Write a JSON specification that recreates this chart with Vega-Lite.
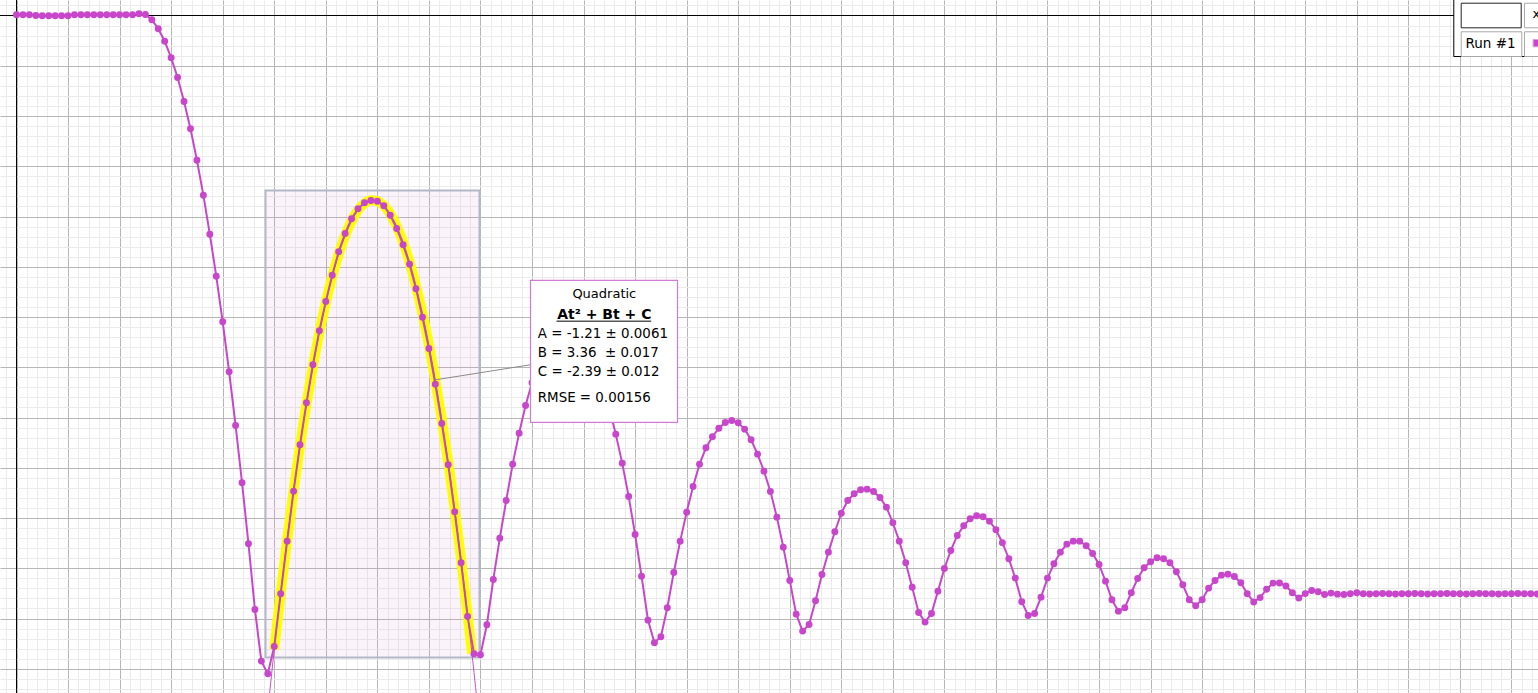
{
  "$schema": "https://vega.github.io/schema/vega-lite/v6.json",
  "width": 1538,
  "height": 693,
  "autosize": "none",
  "padding": 0,
  "background": "white",
  "config": {"view": {"stroke": null}},
  "resolve": {"axis": {"x": "independent", "y": "independent"}},
  "datasets": {
    "run": [
      {"t":0,"y":0.00028},{"t":0.025,"y":0.00028},{"t":0.05,"y":0.00028},{"t":0.075,"y":0},{"t":0.1,"y":-0.00012},{"t":0.125,"y":-0.00012},{"t":0.15,"y":-0.00012},{"t":0.175,"y":-0.00012},{"t":0.2,"y":-0.00012},{"t":0.225,"y":0.00028},
      {"t":0.25,"y":0.00028},{"t":0.275,"y":0.00028},{"t":0.3,"y":0.00028},{"t":0.325,"y":0.00028},{"t":0.35,"y":0.00028},{"t":0.375,"y":0.00028},{"t":0.4,"y":0.00028},{"t":0.425,"y":0.00028},{"t":0.45,"y":0.00028},{"t":0.475,"y":0.00068},
      {"t":0.5,"y":0.0004},{"t":0.525,"y":-0.00171},{"t":0.55,"y":-0.00529},{"t":0.575,"y":-0.01023},{"t":0.6,"y":-0.01683},{"t":0.625,"y":-0.02467},{"t":0.65,"y":-0.03422},{"t":0.675,"y":-0.04509},{"t":0.7,"y":-0.05758},{"t":0.725,"y":-0.07151},
      {"t":0.75,"y":-0.08703},{"t":0.775,"y":-0.10374},{"t":0.8,"y":-0.12189},{"t":0.825,"y":-0.14178},{"t":0.85,"y":-0.16315},{"t":0.875,"y":-0.18595},{"t":0.9,"y":-0.21023},{"t":0.925,"y":-0.23637},{"t":0.95,"y":-0.25694},{"t":0.975,"y":-0.26196},
      {"t":1,"y":-0.25109},{"t":1.025,"y":-0.23012},{"t":1.05,"y":-0.20919},{"t":1.075,"y":-0.1893},{"t":1.1,"y":-0.17083},{"t":1.125,"y":-0.15412},{"t":1.15,"y":-0.139},{"t":1.175,"y":-0.12547},{"t":1.2,"y":-0.11381},{"t":1.225,"y":-0.10334},
      {"t":1.25,"y":-0.09403},{"t":1.275,"y":-0.08675},{"t":1.3,"y":-0.0809},{"t":1.325,"y":-0.07692},{"t":1.35,"y":-0.07453},{"t":1.375,"y":-0.07362},{"t":1.4,"y":-0.0739},{"t":1.425,"y":-0.07573},{"t":1.45,"y":-0.07947},{"t":1.475,"y":-0.08476},
      {"t":1.5,"y":-0.09125},{"t":1.525,"y":-0.09897},{"t":1.55,"y":-0.10876},{"t":1.575,"y":-0.12006},{"t":1.6,"y":-0.13251},{"t":1.625,"y":-0.14672},{"t":1.65,"y":-0.16236},{"t":1.675,"y":-0.17879},{"t":1.7,"y":-0.1975},{"t":1.725,"y":-0.21779},
      {"t":1.75,"y":-0.23916},{"t":1.775,"y":-0.254},{"t":1.8,"y":-0.2544},{"t":1.825,"y":-0.24246},{"t":1.85,"y":-0.22443},{"t":1.875,"y":-0.208},{"t":1.9,"y":-0.193},{"t":1.925,"y":-0.17855},{"t":1.95,"y":-0.16622},{"t":1.975,"y":-0.15519},
      {"t":2,"y":-0.14616},{"t":2.025,"y":-0.13868},{"t":2.05,"y":-0.13271},{"t":2.075,"y":-0.12825},{"t":2.1,"y":-0.12531},{"t":2.125,"y":-0.12388},{"t":2.15,"y":-0.12396},{"t":2.175,"y":-0.12555},{"t":2.2,"y":-0.12865},{"t":2.225,"y":-0.13327},
      {"t":2.25,"y":-0.1394},{"t":2.275,"y":-0.14704},{"t":2.3,"y":-0.15619},{"t":2.325,"y":-0.16661},{"t":2.35,"y":-0.17815},{"t":2.375,"y":-0.1914},{"t":2.4,"y":-0.20653},{"t":2.425,"y":-0.22312},{"t":2.45,"y":-0.24063},{"t":2.475,"y":-0.24962},
      {"t":2.5,"y":-0.24723},{"t":2.525,"y":-0.2357},{"t":2.55,"y":-0.22165},{"t":2.575,"y":-0.20919},{"t":2.6,"y":-0.19765},{"t":2.625,"y":-0.18743},{"t":2.65,"y":-0.17855},{"t":2.675,"y":-0.17203},{"t":2.7,"y":-0.16765},{"t":2.725,"y":-0.16423},
      {"t":2.75,"y":-0.16196},{"t":2.775,"y":-0.16116},{"t":2.8,"y":-0.16208},{"t":2.825,"y":-0.16462},{"t":2.85,"y":-0.16884},{"t":2.875,"y":-0.17457},{"t":2.9,"y":-0.18134},{"t":2.925,"y":-0.18942},{"t":2.95,"y":-0.19964},{"t":2.975,"y":-0.21158},
      {"t":3,"y":-0.22483},{"t":3.025,"y":-0.23824},{"t":3.05,"y":-0.245},{"t":3.075,"y":-0.24234},{"t":3.1,"y":-0.23291},{"t":3.125,"y":-0.22244},{"t":3.15,"y":-0.21357},{"t":3.175,"y":-0.20545},{"t":3.2,"y":-0.19805},{"t":3.225,"y":-0.193},
      {"t":3.25,"y":-0.19033},{"t":3.275,"y":-0.18874},{"t":3.3,"y":-0.1885},{"t":3.325,"y":-0.18942},{"t":3.35,"y":-0.1918},{"t":3.375,"y":-0.19566},{"t":3.4,"y":-0.20187},{"t":3.425,"y":-0.20919},{"t":3.45,"y":-0.21779},{"t":3.475,"y":-0.2275},
      {"t":3.5,"y":-0.23756},{"t":3.525,"y":-0.24142},{"t":3.55,"y":-0.23796},{"t":3.575,"y":-0.22909},{"t":3.6,"y":-0.22006},{"t":3.625,"y":-0.21289},{"t":3.65,"y":-0.20692},{"t":3.675,"y":-0.20306},{"t":3.7,"y":-0.20028},{"t":3.725,"y":-0.19908},
      {"t":3.75,"y":-0.19948},{"t":3.775,"y":-0.20123},{"t":3.8,"y":-0.20466},{"t":3.825,"y":-0.20983},{"t":3.85,"y":-0.2162},{"t":3.875,"y":-0.22391},{"t":3.9,"y":-0.23331},{"t":3.925,"y":-0.23876},{"t":3.95,"y":-0.23796},{"t":3.975,"y":-0.23148},
      {"t":4,"y":-0.22391},{"t":4.025,"y":-0.21819},{"t":4.05,"y":-0.21357},{"t":4.075,"y":-0.21039},{"t":4.1,"y":-0.20919},{"t":4.125,"y":-0.20919},{"t":4.15,"y":-0.21102},{"t":4.175,"y":-0.21409},{"t":4.2,"y":-0.21846},{"t":4.225,"y":-0.22511},
      {"t":4.25,"y":-0.23251},{"t":4.275,"y":-0.23705},{"t":4.3,"y":-0.2357},{"t":4.325,"y":-0.22973},{"t":4.35,"y":-0.22404},{"t":4.375,"y":-0.21978},{"t":4.4,"y":-0.21739},{"t":4.425,"y":-0.2158},{"t":4.45,"y":-0.2162},{"t":4.475,"y":-0.21779},
      {"t":4.5,"y":-0.22137},{"t":4.525,"y":-0.22655},{"t":4.55,"y":-0.23251},{"t":4.575,"y":-0.2349},{"t":4.6,"y":-0.23251},{"t":4.625,"y":-0.2279},{"t":4.65,"y":-0.22483},{"t":4.675,"y":-0.22272},{"t":4.7,"y":-0.22232},{"t":4.725,"y":-0.22324},
      {"t":4.75,"y":-0.22575},{"t":4.775,"y":-0.23012},{"t":4.8,"y":-0.23339},{"t":4.825,"y":-0.23167},{"t":4.85,"y":-0.22833},{"t":4.875,"y":-0.2259},{"t":4.9,"y":-0.22583},{"t":4.925,"y":-0.22702},{"t":4.95,"y":-0.22973},{"t":4.975,"y":-0.2318},
      {"t":5,"y":-0.23008},{"t":5.025,"y":-0.22881},{"t":5.05,"y":-0.22933},{"t":5.075,"y":-0.2304},{"t":5.1,"y":-0.22988},{"t":5.125,"y":-0.23028},{"t":5.15,"y":-0.2304},{"t":5.175,"y":-0.23012},{"t":5.2,"y":-0.22973},{"t":5.225,"y":-0.23012},
      {"t":5.25,"y":-0.23025},{"t":5.275,"y":-0.23012},{"t":5.3,"y":-0.23},{"t":5.325,"y":-0.23012},{"t":5.35,"y":-0.23025},{"t":5.375,"y":-0.23012},{"t":5.4,"y":-0.23012},{"t":5.425,"y":-0.23},{"t":5.45,"y":-0.23012},{"t":5.475,"y":-0.23025},
      {"t":5.5,"y":-0.23012},{"t":5.525,"y":-0.23012},{"t":5.55,"y":-0.23},{"t":5.575,"y":-0.23012},{"t":5.6,"y":-0.23012},{"t":5.625,"y":-0.23025},{"t":5.65,"y":-0.23012},{"t":5.675,"y":-0.23},{"t":5.7,"y":-0.23012},{"t":5.725,"y":-0.23012},
      {"t":5.75,"y":-0.23025},{"t":5.775,"y":-0.23012},{"t":5.8,"y":-0.23012},{"t":5.825,"y":-0.23},{"t":5.85,"y":-0.23012},{"t":5.875,"y":-0.23012},{"t":5.9,"y":-0.23025}
    ],
    "fit": [
      {"t":0.94,"y":-0.31283},{"t":0.96,"y":-0.2917},{"t":0.98,"y":-0.27154},{"t":1,"y":-0.25234},{"t":1.025,"y":-0.22974},{"t":1.05,"y":-0.20866},{"t":1.075,"y":-0.1891},{"t":1.1,"y":-0.17107},{"t":1.125,"y":-0.15457},{"t":1.15,"y":-0.1396},
      {"t":1.175,"y":-0.12615},{"t":1.2,"y":-0.11423},{"t":1.225,"y":-0.10384},{"t":1.25,"y":-0.09497},{"t":1.275,"y":-0.08763},{"t":1.3,"y":-0.08181},{"t":1.325,"y":-0.07753},{"t":1.35,"y":-0.07477},{"t":1.375,"y":-0.07353},{"t":1.4,"y":-0.07383},
      {"t":1.425,"y":-0.07565},{"t":1.45,"y":-0.07899},{"t":1.475,"y":-0.08387},{"t":1.5,"y":-0.09027},{"t":1.525,"y":-0.09819},{"t":1.55,"y":-0.10765},{"t":1.575,"y":-0.11863},{"t":1.6,"y":-0.13113},{"t":1.625,"y":-0.14517},{"t":1.65,"y":-0.16073},
      {"t":1.675,"y":-0.17782},{"t":1.7,"y":-0.19643},{"t":1.725,"y":-0.21657},{"t":1.75,"y":-0.23824},{"t":1.767,"y":-0.25385},{"t":1.775,"y":-0.26143},{"t":1.8,"y":-0.28616},{"t":1.82,"y":-0.30703},{"t":1.84,"y":-0.32888}
    ]
  },
  "layer": [
    {
      "data": {"values": [{}]},
      "mark": {"type": "rect", "fill": "#d9a0d9", "fillOpacity": 0.12, "stroke": "#b3b8c6", "strokeWidth": 2},
      "encoding": {
        "x": {
          "datum": 0.96605, "type": "quantitative",
          "scale": {"domain": [-0.064016, 5.90301], "nice": false, "zero": false},
          "axis": {
            "labels": false, "ticks": false, "domain": true, "domainOpacity": 0, "title": null,
            "grid": true, "gridColor": "#ebebeb", "gridWidth": 1, "gridOpacity": 1, "orient": "bottom",
            "values": [-0.04,0.04,0.08,0.12,0.16,0.24,0.28,0.32,0.36,0.44,0.48,0.52,0.56,0.64,0.68,0.72,0.76,0.84,0.88,0.92,0.96,
              1.04,1.08,1.12,1.16,1.24,1.28,1.32,1.36,1.44,1.48,1.52,1.56,1.64,1.68,1.72,1.76,1.84,1.88,1.92,1.96,
              2.04,2.08,2.12,2.16,2.24,2.28,2.32,2.36,2.44,2.48,2.52,2.56,2.64,2.68,2.72,2.76,2.84,2.88,2.92,2.96,
              3.04,3.08,3.12,3.16,3.24,3.28,3.32,3.36,3.44,3.48,3.52,3.56,3.64,3.68,3.72,3.76,3.84,3.88,3.92,3.96,
              4.04,4.08,4.12,4.16,4.24,4.28,4.32,4.36,4.44,4.48,4.52,4.56,4.64,4.68,4.72,4.76,4.84,4.88,4.92,4.96,
              5.04,5.08,5.12,5.16,5.24,5.28,5.32,5.36,5.44,5.48,5.52,5.56,5.64,5.68,5.72,5.76,5.84,5.88]
          }
        },
        "x2": {"datum": 1.79631},
        "y": {
          "datum": -0.069638, "type": "quantitative",
          "scale": {"domain": [-0.269629, 0.006168], "nice": false, "zero": false},
          "axis": {
            "labels": false, "ticks": false, "domain": true, "domainOpacity": 0, "title": null,
            "grid": true, "gridColor": "#ebebeb", "gridWidth": 1, "gridOpacity": 1, "orient": "left",
            "values": [0.004,-0.004,-0.008,-0.012,-0.016,-0.024,-0.028,-0.032,-0.036,-0.044,-0.048,-0.052,-0.056,-0.064,-0.068,-0.072,-0.076,-0.084,-0.088,-0.092,-0.096,-0.104,-0.108,-0.112,-0.116,-0.124,-0.128,-0.132,-0.136,-0.144,-0.148,-0.152,-0.156,-0.164,-0.168,-0.172,-0.176,-0.184,-0.188,-0.192,-0.196,-0.204,-0.208,-0.212,-0.216,-0.224,-0.228,-0.232,-0.236,-0.244,-0.248,-0.252,-0.256,-0.264,-0.268]
          }
        },
        "y2": {"datum": -0.255472}
      }
    },
    {
      "data": {"values": [{}]},
      "mark": {"type": "rule", "color": "#000000", "strokeWidth": 1},
      "encoding": {"x": {"datum": 0, "type": "quantitative", "axis": null}}
    },
    {
      "data": {"values": [{}]},
      "mark": {"type": "rule", "color": "#000000", "strokeWidth": 1},
      "encoding": {"y": {"datum": 0, "type": "quantitative", "axis": null}}
    },
    {
      "data": {"name": "fit"},
      "transform": [{"filter": "datum.t >= 0.999 && datum.t <= 1.768"}],
      "mark": {"type": "line", "color": "#ffff00", "strokeWidth": 10, "strokeCap": "butt", "interpolate": "monotone", "clip": true},
      "encoding": {
        "x": {"field": "t", "type": "quantitative", "axis": null},
        "y": {"field": "y", "type": "quantitative", "axis": null}
      }
    },
    {
      "data": {"name": "fit"},
      "mark": {"type": "line", "color": "#c850c8", "strokeWidth": 1, "interpolate": "monotone", "clip": true},
      "encoding": {
        "x": {"field": "t", "type": "quantitative", "axis": null},
        "y": {"field": "y", "type": "quantitative", "axis": null}
      }
    },
    {
      "data": {"name": "run"},
      "mark": {"type": "line", "color": "#c846cb", "strokeWidth": 2, "clip": true},
      "encoding": {
        "x": {
          "field": "t", "type": "quantitative",
          "axis": {
            "labels": false, "ticks": false, "domain": true, "domainOpacity": 0, "title": null,
            "grid": true, "gridColor": "#b6b6b6", "gridWidth": 1, "gridOpacity": 1, "orient": "top",
            "values": [0,0.2,0.4,0.6,0.8,1,1.2,1.4,1.6,1.8,2,2.2,2.4,2.6,2.8,3,3.2,3.4,3.6,3.8,4,4.2,4.4,4.6,4.8,5,5.2,5.4,5.6,5.8]
          }
        },
        "y": {
          "field": "y", "type": "quantitative",
          "axis": {
            "labels": false, "ticks": false, "domain": true, "domainOpacity": 0, "title": null,
            "grid": true, "gridColor": "#b6b6b6", "gridWidth": 1, "gridOpacity": 1, "orient": "right",
            "values": [0,-0.02,-0.04,-0.06,-0.08,-0.1,-0.12,-0.14,-0.16,-0.18,-0.2,-0.22,-0.24,-0.26]
          }
        }
      }
    },
    {
      "data": {"name": "run"},
      "mark": {"type": "point", "shape": "circle", "filled": true, "size": 48, "opacity": 1, "color": "#c846cb", "strokeWidth": 0, "clip": true},
      "encoding": {
        "x": {"field": "t", "type": "quantitative", "axis": null},
        "y": {"field": "y", "type": "quantitative", "axis": null}
      }
    },
    {
      "data": {"values": [{}]},
      "mark": {"type": "rule", "color": "#8a8a8a", "strokeWidth": 1},
      "encoding": {
        "x": {"datum": 1.6268, "type": "quantitative", "axis": null},
        "y": {"datum": -0.14497, "type": "quantitative", "axis": null},
        "x2": {"datum": 1.994},
        "y2": {"datum": -0.139}
      }
    },
    {
      "data": {"values": [{}]},
      "mark": {"type": "rect", "fill": "#ffffff", "stroke": "#d27ad6", "strokeWidth": 1.2},
      "encoding": {
        "x": {"datum": 1.99418, "type": "quantitative", "axis": null},
        "x2": {"datum": 2.5645},
        "y": {"datum": -0.105452, "type": "quantitative", "axis": null},
        "y2": {"datum": -0.161958}
      }
    },
    {
      "data": {"values": [{}]},
      "mark": {"type": "text", "text": "Quadratic", "font": "DejaVu Sans", "fontSize": 13, "align": "center", "baseline": "alphabetic", "color": "#000000"},
      "encoding": {
        "x": {"datum": 2.2805, "type": "quantitative", "axis": null},
        "y": {"datum": -0.112495, "type": "quantitative", "axis": null}
      }
    },
    {
      "data": {"values": [{}]},
      "mark": {"type": "text", "text": "At² + Bt + C", "font": "DejaVu Sans", "fontSize": 14, "fontWeight": "bold", "align": "center", "baseline": "alphabetic", "color": "#000000"},
      "encoding": {
        "x": {"datum": 2.2805, "type": "quantitative", "axis": null},
        "y": {"datum": -0.120692, "type": "quantitative", "axis": null}
      }
    },
    {
      "data": {"values": [{}]},
      "mark": {"type": "rule", "color": "#000000", "strokeWidth": 1},
      "encoding": {
        "x": {"datum": 2.09505, "type": "quantitative", "axis": null},
        "x2": {"datum": 2.46246},
        "y": {"datum": -0.121647, "type": "quantitative", "axis": null}
      }
    },
    {
      "data": {"values": [{}]},
      "mark": {"type": "text", "text": "A = -1.21 ± 0.0061", "font": "DejaVu Sans", "fontSize": 13.4, "align": "left", "baseline": "alphabetic", "color": "#000000"},
      "encoding": {
        "x": {"datum": 2.0225, "type": "quantitative", "axis": null},
        "y": {"datum": -0.128253, "type": "quantitative", "axis": null}
      }
    },
    {
      "data": {"values": [{}]},
      "mark": {"type": "text", "text": "B = 3.36\u00a0 ± 0.017", "font": "DejaVu Sans", "fontSize": 13.4, "align": "left", "baseline": "alphabetic", "color": "#000000"},
      "encoding": {
        "x": {"datum": 2.0225, "type": "quantitative", "axis": null},
        "y": {"datum": -0.135973, "type": "quantitative", "axis": null}
      }
    },
    {
      "data": {"values": [{}]},
      "mark": {"type": "text", "text": "C = -2.39 ± 0.012", "font": "DejaVu Sans", "fontSize": 13.4, "align": "left", "baseline": "alphabetic", "color": "#000000"},
      "encoding": {
        "x": {"datum": 2.0225, "type": "quantitative", "axis": null},
        "y": {"datum": -0.143534, "type": "quantitative", "axis": null}
      }
    },
    {
      "data": {"values": [{}]},
      "mark": {"type": "text", "text": "RMSE = 0.00156", "font": "DejaVu Sans", "fontSize": 13.4, "align": "left", "baseline": "alphabetic", "color": "#000000"},
      "encoding": {
        "x": {"datum": 2.0225, "type": "quantitative", "axis": null},
        "y": {"datum": -0.15388, "type": "quantitative", "axis": null}
      }
    },
    {
      "data": {"values": [{}]},
      "mark": {"type": "rect", "fill": "#ffffff", "stroke": "#000000", "strokeWidth": 1, "clip": true},
      "encoding": {
        "x": {"datum": 5.5763, "type": "quantitative", "axis": null},
        "x2": {"datum": 6.0},
        "y": {"datum": 0.01, "type": "quantitative", "axis": null},
        "y2": {"datum": -0.016315}
      }
    },
    {
      "data": {"values": [{}]},
      "mark": {"type": "rect", "fill": "#ffffff", "stroke": "#222222", "strokeWidth": 1, "clip": true},
      "encoding": {
        "x": {"datum": 5.605, "type": "quantitative", "axis": null},
        "x2": {"datum": 5.8378},
        "y": {"datum": 0.004895, "type": "quantitative", "axis": null},
        "y2": {"datum": -0.004895}
      }
    },
    {
      "data": {"values": [{}]},
      "mark": {"type": "rect", "fill": "#ffffff", "stroke": "#a8a8a8", "strokeWidth": 1, "clip": true},
      "encoding": {
        "x": {"datum": 5.605, "type": "quantitative", "axis": null},
        "x2": {"datum": 5.8402},
        "y": {"datum": -0.006486, "type": "quantitative", "axis": null},
        "y2": {"datum": -0.016315}
      }
    },
    {
      "data": {"values": [{}]},
      "mark": {"type": "rect", "fill": "#ffffff", "stroke": "#a8a8a8", "strokeWidth": 1, "clip": true},
      "encoding": {
        "x": {"datum": 5.8506, "type": "quantitative", "axis": null},
        "x2": {"datum": 6.0},
        "y": {"datum": 0.004895, "type": "quantitative", "axis": null},
        "y2": {"datum": -0.004895}
      }
    },
    {
      "data": {"values": [{}]},
      "mark": {"type": "rect", "fill": "#ffffff", "stroke": "#a8a8a8", "strokeWidth": 1, "clip": true},
      "encoding": {
        "x": {"datum": 5.8506, "type": "quantitative", "axis": null},
        "x2": {"datum": 6.0},
        "y": {"datum": -0.006486, "type": "quantitative", "axis": null},
        "y2": {"datum": -0.016315}
      }
    },
    {
      "data": {"values": [{}]},
      "mark": {"type": "rect", "fill": "#c846cb", "stroke": "#e0a0e0", "strokeWidth": 1, "clip": true},
      "encoding": {
        "x": {"datum": 5.884, "type": "quantitative", "axis": null},
        "x2": {"datum": 5.95},
        "y": {"datum": -0.00955, "type": "quantitative", "axis": null},
        "y2": {"datum": -0.01246}
      }
    },
    {
      "data": {"values": [{}]},
      "mark": {"type": "text", "text": "Run #1", "font": "DejaVu Sans", "fontSize": 13.5, "align": "left", "baseline": "middle", "color": "#000000"},
      "encoding": {
        "x": {"datum": 5.6217, "type": "quantitative", "axis": null},
        "y": {"datum": -0.011421, "type": "quantitative", "axis": null}
      }
    },
    {
      "data": {"values": [{}]},
      "mark": {"type": "text", "text": "x", "font": "DejaVu Sans", "fontSize": 13, "align": "left", "baseline": "middle", "color": "#000000", "clip": true},
      "encoding": {
        "x": {"datum": 5.8817, "type": "quantitative", "axis": null},
        "y": {"datum": 0.0004, "type": "quantitative", "axis": null}
      }
    }
  ]
}
